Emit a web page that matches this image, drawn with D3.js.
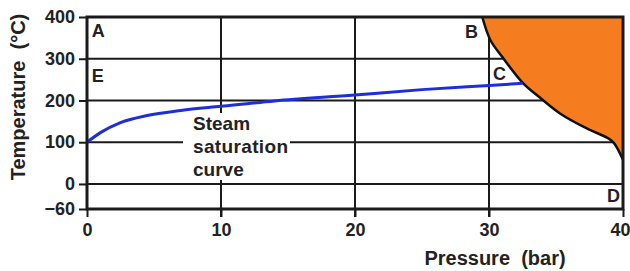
<!DOCTYPE html>
<html>
<head>
<meta charset="utf-8">
<script src="https://cdn.jsdelivr.net/npm/d3@7"></script>
<style>
  body { margin: 0; background: #fff; }
  svg { display: block; font-family: "Liberation Sans", Arial, sans-serif; font-weight: bold; }
</style>
</head>
<body>
<svg id="chart" width="630" height="271"></svg>
<script>
// data
var xTicks = [0, 10, 20, 30, 40];
var yTicks = [-60, 0, 100, 200, 300, 400];
var gridX = [10, 20, 30];
var gridY = [0, 100, 200, 300];

// steam saturation curve (bar, °C)
var satPressure = [0, 1, 2.5, 4.5, 7, 10, 14, 20, 25, 30, 32.5];
var satTemp     = [100, 123, 147, 164, 176, 186, 199, 213, 226, 236, 241];

// boundary of the orange region (bar, °C)
var edgePressure = [29.5, 30.1, 31, 32.5, 33.8, 35.3, 37.3, 38.8, 39.3, 40];
var edgeTemp     = [400, 345, 304, 243, 207, 169, 133, 111, 99, 58];

var pointLabels = [
  {t: 'A', p: 0.35, v: 352},
  {t: 'E', p: 0.35, v: 244},
  {t: 'B', p: 28.2, v: 350},
  {t: 'C', p: 30.3, v: 249},
  {t: 'D', p: 38.8, v: -43}
];

var svg = d3.select('#chart');

var x = d3.scaleLinear().domain([0, 40]).range([87, 623]);
var y = d3.scaleLinear().domain([-60, 400]).range([209, 17]);

var ink = '#1a1a1a';
var txt = '#222';

// grid
svg.append('g').selectAll('line')
  .data(gridX).enter().append('line')
  .attr('x1', d => x(d)).attr('x2', d => x(d))
  .attr('y1', y(400)).attr('y2', y(-60) + 8)
  .attr('stroke', ink).attr('stroke-width', 2);

svg.append('g').selectAll('line')
  .data(gridY).enter().append('line')
  .attr('x1', x(0)).attr('x2', x(40))
  .attr('y1', d => y(d)).attr('y2', d => y(d))
  .attr('stroke', ink).attr('stroke-width', 2);

// orange region
var edge = edgePressure.map((p, i) => [p, edgeTemp[i]]);
var edgeLine = d3.line().x(d => x(d[0])).y(d => y(d[1])).curve(d3.curveCatmullRom);

svg.append('path')
  .attr('d', edgeLine(edge) + 'L' + x(40) + ',' + y(400) + 'Z')
  .attr('fill', '#f57c1f');

svg.append('path')
  .attr('d', edgeLine(edge))
  .attr('fill', 'none')
  .attr('stroke', '#111')
  .attr('stroke-width', 2.5);

// saturation curve
var sat = satPressure.map((p, i) => [p, satTemp[i]]);
svg.append('path')
  .attr('d', d3.line().x(d => x(d[0])).y(d => y(d[1])).curve(d3.curveMonotoneX)(sat))
  .attr('fill', 'none')
  .attr('stroke', '#1f2fd8')
  .attr('stroke-width', 3);

// text box
svg.append('rect')
  .attr('x', 183).attr('y', 113)
  .attr('width', 107).attr('height', 67)
  .attr('fill', '#fff');

var note = svg.append('text')
  .attr('font-size', 19).attr('fill', txt);
note.append('tspan').attr('x', 193).attr('y', 130).text('Steam');
note.append('tspan').attr('x', 193).attr('y', 153).attr('textLength', 95).text('saturation');
note.append('tspan').attr('x', 193).attr('y', 176).text('curve');

// letters
svg.append('g').selectAll('text')
  .data(pointLabels).enter().append('text')
  .attr('x', d => x(d.p)).attr('y', d => y(d.v))
  .attr('font-size', 18).attr('fill', txt)
  .text(d => d.t);

// frame
svg.append('rect')
  .attr('x', x(0)).attr('y', y(400))
  .attr('width', x(40) - x(0)).attr('height', y(-60) - y(400))
  .attr('fill', 'none').attr('stroke', ink).attr('stroke-width', 3);

// axes
var yAxis = d3.axisLeft(y).tickValues(yTicks).tickSize(8).tickPadding(4);
var gy = svg.append('g').attr('transform', 'translate(' + x(0) + ',0)').call(yAxis);
gy.select('.domain').remove();
gy.selectAll('line').attr('stroke', ink).attr('stroke-width', 2);
gy.selectAll('text').attr('font-size', 18).attr('font-family', null).attr('fill', txt);

var xAxis = d3.axisBottom(x).tickValues(xTicks).tickSize(8).tickPadding(6);
var gx = svg.append('g').attr('transform', 'translate(0,' + y(-60) + ')').call(xAxis);
gx.select('.domain').remove();
gx.selectAll('line').attr('stroke', ink).attr('stroke-width', 2);
gx.selectAll('text').attr('font-size', 18).attr('font-family', null).attr('fill', txt);
// keep the last label inside the page
gx.selectAll('text').filter(d => d === 40).attr('text-anchor', 'end').attr('x', 630 - x(40));

// titles
svg.append('text')
  .attr('x', 495).attr('y', 265)
  .attr('text-anchor', 'middle')
  .attr('font-size', 20).attr('fill', txt)
  .attr('xml:space', 'preserve')
  .text('Pressure  (bar)');

svg.append('text')
  .attr('transform', 'translate(25,97) rotate(-90)')
  .attr('text-anchor', 'middle')
  .attr('font-size', 20).attr('fill', txt)
  .attr('xml:space', 'preserve')
  .text('Temperature  (°C)');
</script>
</body>
</html>
